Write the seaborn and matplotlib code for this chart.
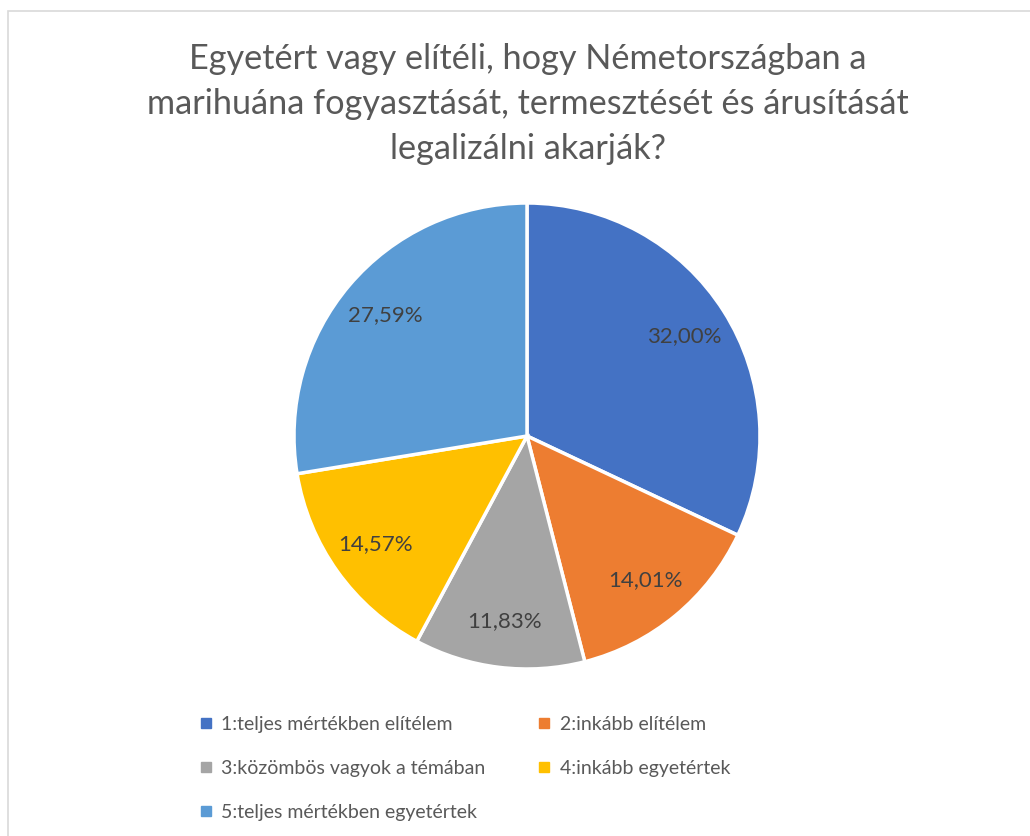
import matplotlib
matplotlib.use("Agg")
import matplotlib.pyplot as plt
import seaborn as sns
from matplotlib.lines import Line2D
from matplotlib.patches import Rectangle

categories = [
    "1:teljes mértékben elítélem",
    "2:inkább elítélem",
    "3:közömbös vagyok a témában",
    "4:inkább egyetértek",
    "5:teljes mértékben egyetértek",
]
values = [32.00, 14.01, 11.83, 14.57, 27.59]
value_labels = ["32,00%", "14,01%", "11,83%", "14,57%", "27,59%"]
title = "Egyetért vagy elítéli, hogy Németországban a\nmarihuána fogyasztását, termesztését és árusítását\nlegalizálni akarják?"

sns.set_theme(style="white")
plt.rcParams["font.family"] = ["Lato", "DejaVu Sans"]

colors = sns.color_palette(["#4472C4", "#ED7D31", "#A5A5A5", "#FFC000", "#5B9BD5"])

W, H = 1030, 836
fig = plt.figure(figsize=(W / 100, H / 100), dpi=100)
fig.patch.set_facecolor("white")

# chart-area border
fig.patches.append(Rectangle((8 / W, -0.05), 1.1, (H - 11) / H + 0.05,
                             transform=fig.transFigure, fill=False,
                             edgecolor="#D9D9D9", linewidth=1.2))

cx, cy, r = 527, 436, 233
ax = fig.add_axes([(cx - r) / W, (H - cy - r) / H, 2 * r / W, 2 * r / H])
wedges, texts = ax.pie(
    values, colors=colors, startangle=90, counterclock=False,
    wedgeprops=dict(edgecolor="white", linewidth=2.5),
    labels=value_labels, labeldistance=0.8,
    textprops=dict(color="#404040", fontsize=16, ha="center", va="center"),
)
ax.set_xlim(-1, 1)
ax.set_ylim(-1, 1)
ax.set_aspect("equal")

fig.text(528 / W, 1 - 104 / H, title, ha="center", va="center",
         fontsize=24.7, color="#595959", linespacing=1.5)

handles = [Line2D([0], [0], marker="s", linestyle="none", markersize=7,
                  markerfacecolor=c, markeredgecolor=c) for c in colors]
order = [0, 2, 4, 1, 3]
fig.legend([handles[i] for i in order], [categories[i] for i in order],
           ncol=2, loc="upper left", bbox_to_anchor=(200 / W, 1 - 716 / H),
           frameon=False, fontsize=14, labelcolor="#595959",
           handlelength=0.6, handletextpad=0.5, columnspacing=2.7,
           labelspacing=1.38, borderpad=0, borderaxespad=0)

fig.savefig("out.png", dpi=100, facecolor="white")
